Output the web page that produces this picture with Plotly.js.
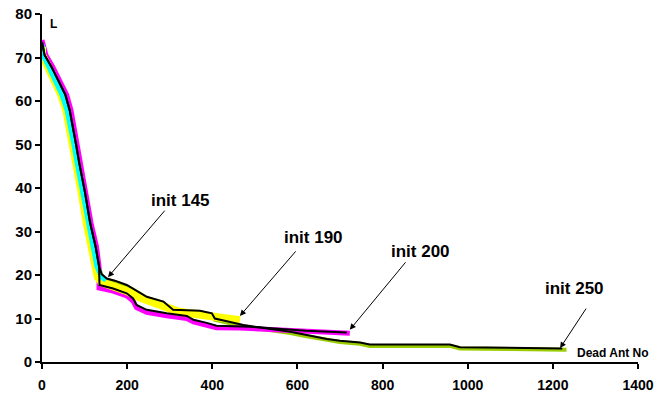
<!DOCTYPE html>
<html>
<head>
<meta charset="utf-8">
<script src="https://cdn.plot.ly/plotly-3.0.1.min.js"></script>
<style>html,body{margin:0;padding:0;background:#fff;}#chart{width:671px;height:393px;}</style>
</head>
<body>
<div id="chart"></div>
<script>
// Cyan series (init 145)
const cyanX = [0, 2, 16, 32, 47, 59, 68, 75, 83, 96, 108, 121, 129, 140, 150];
const cyanY = [73, 70.6, 67.9, 64.8, 61.4, 57.9, 54, 50, 45.5, 39, 32, 26.5, 22, 19.5, 18.8];

// Yellow series (init 190)
const yellowX = [0, 0, 14, 30, 45, 57, 65, 72, 80, 93, 105, 118, 126, 131, 140, 170, 200, 230, 260, 290, 320, 360, 400, 440, 465];
const yellowY = [72.5, 70.6, 67.9, 64.8, 61.4, 57.9, 54, 50, 45.5, 39, 32, 26.5, 22, 19.5, 18.3, 17.3, 16.3, 14.8, 13.6, 12.6, 11.6, 11.0, 10.4, 9.8, 9.6];

// Magenta series (init 200)
const magentaX = [0, 9, 25, 41, 58, 68, 75, 82, 90, 103, 115, 128, 134, 134, 167, 199, 214, 222, 246, 293, 340, 356, 387, 410, 465, 550, 620, 723];
const magentaY = [74, 70.6, 67.9, 64.8, 61.4, 57.9, 54, 50, 45.5, 39, 32, 26.5, 22, 17, 16.3, 15.2, 14.0, 12.5, 11.4, 10.6, 10.0, 9.2, 8.5, 7.9, 7.8, 7.4, 7.0, 6.6];

// Yellow-green series (init 250)
const greenX = [0, 6, 22, 38, 55, 65, 73, 80, 88, 101, 113, 126, 134, 140, 152, 171, 199, 214, 246, 285, 308, 371, 399, 406, 449, 473, 500, 540, 580, 622, 669, 700, 747, 770, 958, 982, 1100, 1232];
const greenY = [73.2, 70.3, 67.6, 64.5, 61.1, 57.6, 53.7, 49.7, 45.2, 38.7, 31.7, 26.2, 21.7, 19.9, 18.9, 18.4, 17.4, 16.6, 14.7, 13.6, 11.7, 11.5, 10.9, 9.7, 8.7, 8.2, 7.8, 7.3, 6.7, 5.9, 5.0, 4.6, 4.2, 3.7, 3.7, 3.1, 3.0, 2.8];

// Black line A (upper path, continues to 1222)
const blackAX = [0, 6, 22, 38, 55, 65, 73, 80, 88, 101, 113, 126, 134, 140, 152, 171, 199, 214, 246, 285, 308, 371, 399, 406, 449, 473, 500, 540, 580, 622, 669, 700, 747, 770, 958, 982, 1100, 1222];
const blackAY = [73.5, 70.6, 67.9, 64.8, 61.4, 57.9, 54, 50, 45.5, 39, 32, 26.5, 22, 20.2, 19.2, 18.7, 17.7, 16.9, 15.0, 13.9, 12.0, 11.8, 11.2, 10.0, 9.0, 8.5, 8.1, 7.6, 7.0, 6.2, 5.3, 4.9, 4.5, 4.0, 4.0, 3.4, 3.3, 3.1];

// Black line B (lower path, ends at 716)
const blackBX = [0, 6, 22, 38, 55, 65, 73, 80, 88, 101, 113, 126, 134, 135, 167, 199, 214, 222, 246, 293, 340, 356, 387, 410, 489, 550, 620, 716];
const blackBY = [73.5, 70.6, 67.9, 64.8, 61.4, 57.9, 54, 50, 45.5, 39, 32, 26.5, 22, 17.7, 16.9, 15.8, 14.6, 13.1, 12.0, 11.2, 10.6, 9.7, 9.0, 8.35, 8.1, 7.6, 7.2, 6.8];

// Tick values
const xTicks = [0, 200, 400, 600, 800, 1000, 1200, 1400];
const yTicks = [0, 10, 20, 30, 40, 50, 60, 70, 80];

// Labels and arrow tips
const labelText = ["init 145", "init 190", "init 200", "init 250"];
const labelX = [326, 637, 890, 1250];
const labelY = [37.2, 28.7, 25.5, 17.0];
const tipX = [155, 465, 723, 1217];
const tipY = [19.5, 10.6, 7.4, 3.2];
const tailDX = [58, 57, 57, 27];
const tailDY = [-68, -66, -69, -41];

const fontFam = "Arial, 'Liberation Sans', sans-serif";

function line(x, y, color, width) {
  return {x: x, y: y, type: 'scatter', mode: 'lines', line: {color: color, width: width}, hoverinfo: 'skip', showlegend: false};
}

const traces = [
  line(greenX, greenY, '#99CC00', 4),
  line(magentaX, magentaY, '#FF00FF', 5),
  line(yellowX, yellowY, '#FFFF00', 8),
  line(cyanX, cyanY, '#00FFFF', 5),
  line(blackBX, blackBY, '#000000', 2),
  line(blackAX, blackAY, '#000000', 2)
];

const annotations = [];
for (let i = 0; i < labelText.length; i++) {
  annotations.push({x: labelX[i], y: labelY[i], xref: 'x', yref: 'y', text: '<b>' + labelText[i] + '</b>', showarrow: false,
    xanchor: 'center', yanchor: 'middle',
    font: {family: fontFam, size: 17, color: '#000'}});
  annotations.push({x: tipX[i], y: tipY[i], xref: 'x', yref: 'y', text: '', showarrow: true,
    ax: tailDX[i], ay: tailDY[i], arrowhead: 2, arrowsize: 1.2, arrowwidth: 1, arrowcolor: '#000'});
}
annotations.push({x: 0.019, y: 0.971, xref: 'paper', yref: 'paper', text: '<b>L</b>', showarrow: false,
  xanchor: 'center', yanchor: 'middle', font: {family: fontFam, size: 12, color: '#000'}});
annotations.push({x: 0.958, y: 0.026, xref: 'paper', yref: 'paper', text: '<b>Dead Ant No</b>', showarrow: false,
  xanchor: 'center', yanchor: 'middle', font: {family: fontFam, size: 12, color: '#000'}});

const layout = {
  width: 671, height: 393,
  margin: {l: 42, r: 33, t: 14, b: 31, pad: 0},
  paper_bgcolor: '#fff', plot_bgcolor: '#fff',
  showlegend: false,
  font: {family: fontFam, size: 14, color: '#000'},
  xaxis: {range: [0, 1400], tickvals: xTicks, ticktext: xTicks.map(v => '<b>' + v + '</b>'), showgrid: false, zeroline: false,
    showline: true, linecolor: '#000', linewidth: 2, ticks: 'outside', ticklen: 5, tickwidth: 2, tickcolor: '#000',
    ticklabelstandoff: 4, tickfont: {family: fontFam, size: 14, color: '#000', weight: 700}},
  yaxis: {range: [0, 80], tickvals: yTicks, ticktext: yTicks.map(v => '<b>' + v + '</b>'), showgrid: false, zeroline: false,
    showline: true, linecolor: '#000', linewidth: 2, ticks: 'outside', ticklen: 5, tickwidth: 2, tickcolor: '#000',
    tickfont: {family: fontFam, size: 15, color: '#000', weight: 700}},
  annotations: annotations
};

Plotly.newPlot('chart', traces, layout, {displayModeBar: false, staticPlot: true});
</script>
</body>
</html>
